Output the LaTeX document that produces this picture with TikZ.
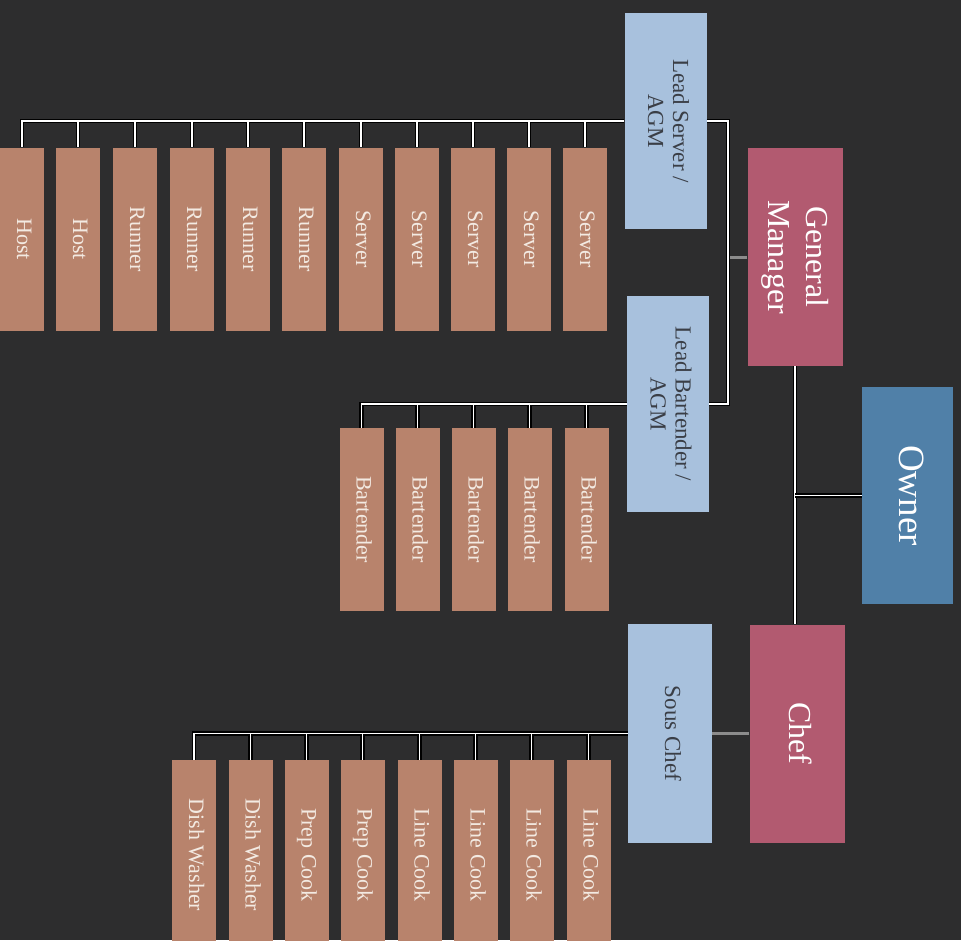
\documentclass[tikz,border=0pt]{standalone}
\usepackage{fontspec}
\setmainfont{Liberation Serif}
\usepackage{graphicx}
\usetikzlibrary{positioning,calc}

\definecolor{bgdark}{RGB}{45,45,46}
\definecolor{staffbox}{RGB}{184,131,108}
\definecolor{stafftext}{RGB}{243,234,226}
\definecolor{leadbox}{RGB}{168,193,221}
\definecolor{leadtext}{RGB}{58,62,70}
\definecolor{headbox}{RGB}{178,90,112}
\definecolor{ownerbox}{RGB}{80,128,168}
\definecolor{linkgrey}{RGB}{140,140,140}

\newcommand{\vlabel}[1]{\rotatebox{-90}{\begin{tabular}{@{}c@{}}#1\end{tabular}}}

\begin{document}
\begin{tikzpicture}[x=1pt,y=-1pt,
every node/.style={rectangle,inner sep=0pt},
staff/.style={fill=staffbox,text=stafftext,minimum width=44pt,minimum height=183pt,
  font=\fontsize{22}{24}\selectfont},
lead/.style={fill=leadbox,text=leadtext,minimum width=82pt,minimum height=216pt,
  font=\fontsize{23}{25}\selectfont},
head/.style={fill=headbox,text=white,minimum width=95pt,minimum height=218pt,
  font=\fontsize{32}{38}\selectfont},
link/.style={draw=white,line width=1.4pt,preaction={draw=black,line width=4.5pt}},
greylink/.style={draw=linkgrey,line width=3pt}]
\useasboundingbox (0,0) rectangle (961,940);
\clip (0,0) rectangle (961,940);
\fill[bgdark] (0,0) rectangle (961,940);

% top of the chart
\node[head,fill=ownerbox,minimum width=91pt,minimum height=217pt,
  font=\fontsize{37}{40}\selectfont] (OW) at (907.5,495.5) {\vlabel{Owner}};
\node[head] (GM) at (795,257) {\vlabel{General\\Manager}};
\node[head] (CH) at (797,733.5) {\vlabel{Chef}};

% leads
\node[lead] (LS) at (665.5,121) {\vlabel{Lead Server /\\AGM}};
\node[lead] (LB) at (668,404) {\vlabel{Lead Bartender /\\AGM}};
\node[lead,minimum width=84pt,minimum height=219pt] (SC) at (670,733.5) {\vlabel{Sous Chef}};

% floor staff
\node[staff] (S1) at (22,239) {\vlabel{Host}};
\node[staff] (S2) at (78,239) {\vlabel{Host}};
\node[staff] (S3) at (135,239) {\vlabel{Runner}};
\node[staff] (S4) at (192,239) {\vlabel{Runner}};
\node[staff] (S5) at (248,239) {\vlabel{Runner}};
\node[staff] (S6) at (304,239) {\vlabel{Runner}};
\node[staff] (S7) at (361,239) {\vlabel{Server}};
\node[staff] (S8) at (417,239) {\vlabel{Server}};
\node[staff] (S9) at (473,239) {\vlabel{Server}};
\node[staff] (S10) at (529,239) {\vlabel{Server}};
\node[staff] (S11) at (585,239) {\vlabel{Server}};

% bar staff
\node[staff] (B1) at (361.5,519.5) {\vlabel{Bartender}};
\node[staff] (B2) at (417.5,519.5) {\vlabel{Bartender}};
\node[staff] (B3) at (473.5,519.5) {\vlabel{Bartender}};
\node[staff] (B4) at (529.5,519.5) {\vlabel{Bartender}};
\node[staff] (B5) at (586.5,519.5) {\vlabel{Bartender}};

% kitchen staff
\node[staff,minimum height=190pt] (K1) at (194,855) {\vlabel{Dish Washer}};
\node[staff,minimum height=190pt] (K2) at (250.5,855) {\vlabel{Dish Washer}};
\node[staff,minimum height=190pt] (K3) at (306.5,855) {\vlabel{Prep Cook}};
\node[staff,minimum height=190pt] (K4) at (362.5,855) {\vlabel{Prep Cook}};
\node[staff,minimum height=190pt] (K5) at (419.5,855) {\vlabel{Line Cook}};
\node[staff,minimum height=190pt] (K6) at (475.5,855) {\vlabel{Line Cook}};
\node[staff,minimum height=190pt] (K7) at (531.5,855) {\vlabel{Line Cook}};
\node[staff,minimum height=190pt] (K8) at (588.5,855) {\vlabel{Line Cook}};

% connectors
\coordinate (MG) at (728,257);
\draw[greylink] (GM.west) -- (MG);
\draw[link] (LS.east) -| (MG) |- (LB.east);
\draw[link] (GM.south) -- (GM.south |- CH.north);
\draw[link] (OW.west) -- (OW.west -| GM.south);
\draw[greylink] (CH.west) -- (SC.east);

\draw[link] (LS.west) -| (S1.north)
  (S2.north |- LS.west) -- (S2.north)
  (S3.north |- LS.west) -- (S3.north)
  (S4.north |- LS.west) -- (S4.north)
  (S5.north |- LS.west) -- (S5.north)
  (S6.north |- LS.west) -- (S6.north)
  (S7.north |- LS.west) -- (S7.north)
  (S8.north |- LS.west) -- (S8.north)
  (S9.north |- LS.west) -- (S9.north)
  (S10.north |- LS.west) -- (S10.north)
  (S11.north |- LS.west) -- (S11.north);

\draw[link] (LB.west) -| (B1.north)
  (B2.north |- LB.west) -- (B2.north)
  (B3.north |- LB.west) -- (B3.north)
  (B4.north |- LB.west) -- (B4.north)
  (B5.north |- LB.west) -- (B5.north);

\draw[link] (SC.west) -| (K1.north)
  (K2.north |- SC.west) -- (K2.north)
  (K3.north |- SC.west) -- (K3.north)
  (K4.north |- SC.west) -- (K4.north)
  (K5.north |- SC.west) -- (K5.north)
  (K6.north |- SC.west) -- (K6.north)
  (K7.north |- SC.west) -- (K7.north)
  (K8.north |- SC.west) -- (K8.north);
\end{tikzpicture}
\end{document}
